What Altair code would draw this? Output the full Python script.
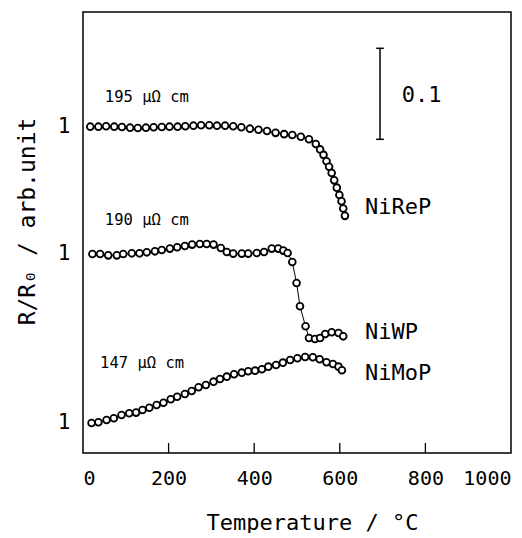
import altair as alt
import pandas as pd

FONT = "DejaVu Sans Mono"

# ---- data (temperature in °C, R/R0) ----
nirep_t = [17, 36, 54, 73, 91, 110, 128, 147, 165, 184, 202, 221, 239, 258, 276, 295, 313, 332, 351, 370,
           390, 410, 430, 450, 470, 489, 509, 528, 544, 554, 562, 569, 575, 581, 587, 593, 599, 604, 608, 612]
nirep_r = [1.0000, 1.0000, 1.0004, 1.0000, 0.9996, 0.9989, 0.9985, 0.9989, 0.9993, 0.9996,
           1.0000, 1.0000, 1.0004, 1.0011, 1.0015, 1.0015, 1.0011, 1.0011, 1.0004, 0.9993,
           0.9978, 0.9967, 0.9953, 0.9932, 0.9918, 0.9909, 0.9890, 0.9861,
           0.981, 0.975, 0.969, 0.962, 0.956, 0.949, 0.941, 0.933, 0.925, 0.918, 0.910, 0.902]

niwp_t = [22, 40, 59, 79, 94, 114, 132, 149, 168, 184, 203, 220, 238, 255, 273, 289, 305, 322, 336, 351,
          371, 386, 406, 423, 441, 456, 468, 478, 489, 499, 507, 520, 528, 542, 554, 566, 581, 597, 608]
niwp_r = [1.0000, 1.0000, 0.9985, 0.9985, 1.0000, 1.0007, 1.0007, 1.0018, 1.0029, 1.0044,
          1.0059, 1.0073, 1.0088, 1.0103, 1.0110, 1.0110, 1.0103, 1.0066, 1.0022, 1.0004,
          1.0004, 1.0004, 1.0011, 1.0022, 1.0059, 1.0059, 1.0037, 1.0011, 0.9912, 0.9681,
          0.9425, 0.9205, 0.9077, 0.9066, 0.9077, 0.9121, 0.9139, 0.9132, 0.9095]

nimop_t = [20, 36, 55, 72, 90, 108, 124, 139, 155, 172, 188, 205, 220, 238, 254, 270, 287, 305, 320, 336,
           353, 371, 386, 402, 418, 433, 451, 467, 484, 501, 519, 537, 553, 569, 584, 597, 605]
nimop_r = [1.0000, 1.0007, 1.0033, 1.0051, 1.0088, 1.0106, 1.0114, 1.0143, 1.0168, 1.0198,
           1.0223, 1.0260, 1.0289, 1.0319, 1.0352, 1.0392, 1.0418, 1.0454, 1.0484, 1.0509,
           1.0535, 1.0553, 1.0568, 1.0575, 1.0590, 1.0619, 1.0637, 1.0663, 1.0692, 1.0711,
           1.0725, 1.0722, 1.0700, 1.0667, 1.0648, 1.0619, 1.0580]

series_names = ["NiReP", "NiWP", "NiMoP"]
series_offsets = [0.3256, 0.1857, 0.0]           # vertical shift of each curve
resistivity_labels = ["195 μΩ cm", "190 μΩ cm", "147 μΩ cm"]
x_ticks = [0, 200, 400, 600, 800, 1000]
scale_bar = 0.1

# ---- build tables ----
rows = []
for name, off, ts, rs in zip(series_names, series_offsets,
                             [nirep_t, niwp_t, nimop_t], [nirep_r, niwp_r, nimop_r]):
    for t, r in zip(ts, rs):
        rows.append({"series": name, "T": t, "R": r, "y": r - 1 + off})
df = pd.DataFrame(rows)

Y_MIN, Y_MAX = -0.033, 0.4516
xs = alt.Scale(domain=[0, 1000], nice=False, zero=False)
ys = alt.Scale(domain=[Y_MIN, Y_MAX], nice=False, zero=False)

x_axis = alt.Axis(values=x_ticks, format="d", labelFlush=True, ticks=False, tickSize=0, domain=False,
                  grid=False, title="Temperature / °C", labelFont=FONT, labelFontSize=20, labelPadding=15,
                  labelColor="black", titleFont=FONT, titleFontSize=22, titleFontWeight="normal",
                  titleColor="black", titleX=229, titleY=69, titleBaseline="middle")
y_axis = alt.Axis(values=series_offsets, labelExpr="'1'", ticks=False, tickSize=0, domain=False, grid=False,
                  title="R/R₀ / arb.unit", labelFont=FONT, labelFontSize=21, labelPadding=13,
                  labelColor="black", titleFont=FONT, titleFontSize=23, titleFontWeight="normal",
                  titleColor="black", titleAngle=270, titleX=-56, titleY=209,
                  titleBaseline="middle", titleAlign="center")

base = alt.Chart(df)
lines = base.mark_line(color="black", strokeWidth=1).encode(
    x=alt.X("T:Q", scale=xs, axis=x_axis),
    y=alt.Y("y:Q", scale=ys, axis=y_axis),
    detail="series:N",
)
points = base.mark_point(shape="circle", filled=False, fill="white", fillOpacity=1,
                         color="black", strokeWidth=1.8, size=46, opacity=1).encode(
    x=alt.X("T:Q", scale=xs), y=alt.Y("y:Q", scale=ys), detail="series:N")

# inward tick marks on the bottom frame
tick_df = pd.DataFrame({"T": x_ticks[1:-1]})
ticks = alt.Chart(tick_df).mark_rule(color="black", strokeWidth=1.3).encode(
    x=alt.X("T:Q", scale=xs), y=alt.value(441), y2=alt.value(431))

# scale bar (0.1)
bar_top = 0.4117
bar_df = pd.DataFrame({"T": [694], "y1": [bar_top - scale_bar], "y2": [bar_top],
                       "xl": [685], "xr": [703]})
bar = alt.Chart(bar_df).mark_rule(color="black", strokeWidth=1.5).encode(
    x=alt.X("T:Q", scale=xs), y=alt.Y("y1:Q", scale=ys), y2="y2:Q")
cap_lo = alt.Chart(bar_df).mark_rule(color="black", strokeWidth=1.5).encode(
    x=alt.X("xl:Q", scale=xs), x2="xr:Q", y=alt.Y("y1:Q", scale=ys))
cap_hi = alt.Chart(bar_df).mark_rule(color="black", strokeWidth=1.5).encode(
    x=alt.X("xl:Q", scale=xs), x2="xr:Q", y=alt.Y("y2:Q", scale=ys))

bar_lbl_df = pd.DataFrame({"T": [745], "y": [0.3604], "txt": [str(scale_bar)]})
bar_lbl = alt.Chart(bar_lbl_df).mark_text(align="left", baseline="middle", font=FONT,
                                           fontSize=22, color="black").encode(
    x=alt.X("T:Q", scale=xs), y=alt.Y("y:Q", scale=ys), text="txt:N")

name_df = pd.DataFrame({"T": [659, 659, 659], "y": [0.2373, 0.0999, 0.0549], "txt": series_names})
names = alt.Chart(name_df).mark_text(align="left", baseline="middle", font=FONT,
                                      fontSize=22, color="black").encode(
    x=alt.X("T:Q", scale=xs), y=alt.Y("y:Q", scale=ys), text="txt:N")

res_df = pd.DataFrame({"T": [51, 51, 40], "y": [0.3582, 0.2230, 0.0659], "txt": resistivity_labels})
res = alt.Chart(res_df).mark_text(align="left", baseline="middle", font=FONT,
                                   fontSize=15.5, color="black").encode(
    x=alt.X("T:Q", scale=xs), y=alt.Y("y:Q", scale=ys), text="txt:N")

chart = alt.layer(lines, points, ticks, bar, cap_lo, cap_hi, bar_lbl, names, res).properties(
    width=428, height=441,
    padding={"left": 75, "top": 4, "right": 3, "bottom": 80},
    autosize=alt.AutoSizeParams(type="none"),
    background="white",
).configure_view(stroke="black", strokeWidth=1.5)

chart.save("out.html", embed_options={"renderer": "svg", "actions": False})
